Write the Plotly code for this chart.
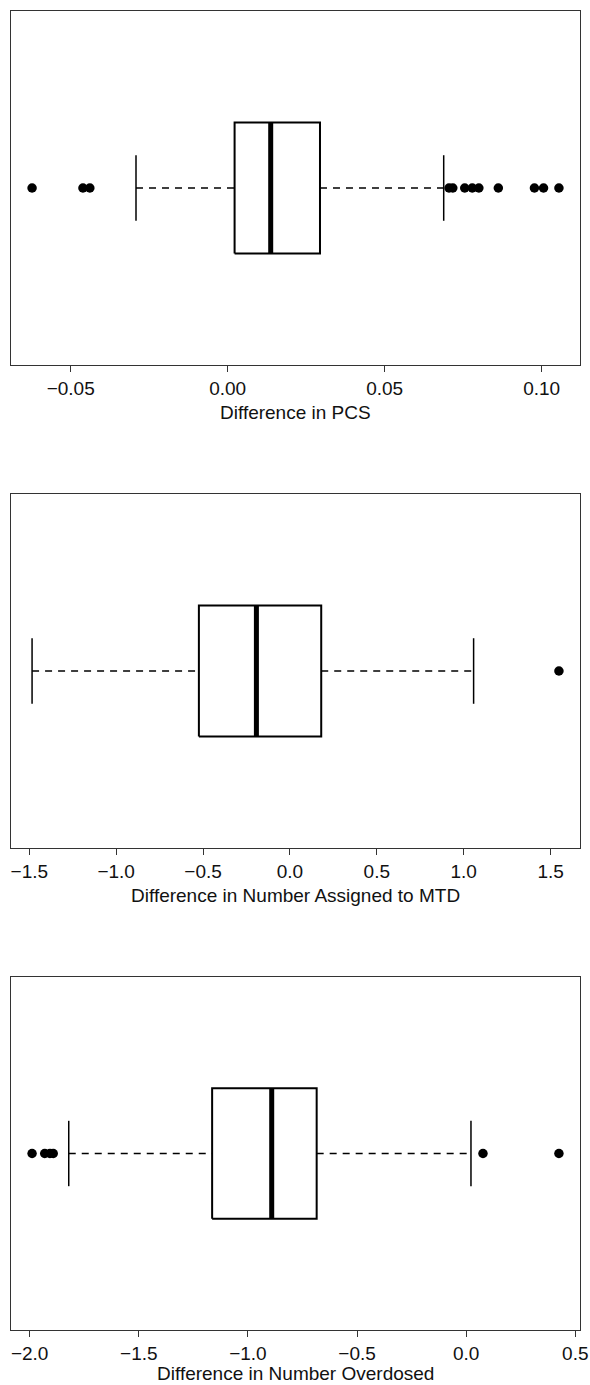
import plotly.graph_objects as go

# ---- data (lower whisker, Q1, median, Q3, upper whisker) ----
pcs_stats = [-0.0292, 0.0022, 0.0137, 0.0294, 0.0688]
pcs_outliers = [-0.0623, -0.0461, -0.0439, 0.0705, 0.0717, 0.0755, 0.0779,
                0.0800, 0.0862, 0.0977, 0.1006, 0.1055]
pcs_ticks = [-0.05, 0.00, 0.05, 0.10]
pcs_ticktext = ["\u22120.05", "0.00", "0.05", "0.10"]
pcs_label = "Difference in PCS"

mtd_stats = [-1.484, -0.524, -0.193, 0.180, 1.057]
mtd_outliers = [1.548]
mtd_ticks = [-1.5, -1.0, -0.5, 0.0, 0.5, 1.0, 1.5]
mtd_ticktext = ["\u22121.5", "\u22121.0", "\u22120.5", "0.0", "0.5", "1.0", "1.5"]
mtd_label = "Difference in Number Assigned to MTD"

od_stats = [-1.821, -1.164, -0.891, -0.685, 0.022]
od_outliers = [-1.989, -1.931, -1.907, -1.892, 0.077, 0.425]
od_ticks = [-2.0, -1.5, -1.0, -0.5, 0.0, 0.5]
od_ticktext = ["\u22122.0", "\u22121.5", "\u22121.0", "\u22120.5", "0.0", "0.5"]
od_label = "Difference in Number Overdosed"

panels = [
    (pcs_stats, pcs_outliers, pcs_ticks, pcs_ticktext, pcs_label),
    (mtd_stats, mtd_outliers, mtd_ticks, mtd_ticktext, mtd_label),
    (od_stats, od_outliers, od_ticks, od_ticktext, od_label),
]

W, H = 590, 1385
ML, MR, MT, MB = 11, 10, 11, 55
PH = H - MT - MB
# panel pixel extents (top, bottom) measured from the top of the page
panel_px = [(11, 365), (494, 848), (977, 1330)]
label_offset = [47, 47, 43]

FONT = "Liberation Sans, Arial, Helvetica, sans-serif"
FRAME = "#333333"

fig = go.Figure()
annotations = []
layout = {}

for i, (stats, outs, ticks, ticktext, label) in enumerate(panels):
    sfx = "" if i == 0 else str(i + 1)
    xa, ya = "x" + sfx, "y" + sfx
    lo, q1, med, q3, hi = stats

    # dashed whiskers
    fig.add_trace(go.Scatter(x=[lo, q1, None, q3, hi], y=[1, 1, None, 1, 1],
                             mode="lines", xaxis=xa, yaxis=ya,
                             line=dict(color="black", width=1.3, dash="7px,6px")))
    # staples
    fig.add_trace(go.Scatter(x=[lo, lo, None, hi, hi], y=[0.9, 1.1, None, 0.9, 1.1],
                             mode="lines", xaxis=xa, yaxis=ya,
                             line=dict(color="black", width=1.5)))
    # box
    fig.add_trace(go.Scatter(x=[q1, q3, q3, q1, q1], y=[0.8, 0.8, 1.2, 1.2, 0.8],
                             mode="lines", xaxis=xa, yaxis=ya, fill="toself",
                             fillcolor="white",
                             line=dict(color="black", width=2)))
    # median
    fig.add_trace(go.Scatter(x=[med, med], y=[0.8, 1.2], mode="lines",
                             xaxis=xa, yaxis=ya,
                             line=dict(color="black", width=5)))
    # outliers
    fig.add_trace(go.Scatter(x=outs, y=[1] * len(outs), mode="markers",
                             xaxis=xa, yaxis=ya,
                             marker=dict(color="black", size=9.5)))

    allv = list(stats) + list(outs)
    mn, mx = min(allv), max(allv)
    pad = 0.04 * (mx - mn)

    top, bot = panel_px[i]
    d0 = (H - MB - bot) / PH
    d1 = (H - MB - top) / PH

    layout["xaxis" + sfx] = dict(
        domain=[0, 1], anchor=ya, range=[mn - pad, mx + pad], automargin=False,
        tickmode="array", tickvals=ticks, ticktext=ticktext,
        ticks="outside", ticklen=6, tickwidth=1.3, tickcolor=FRAME,
        showline=True, mirror=True, linecolor=FRAME, linewidth=1.3,
        showgrid=False, zeroline=False,
        tickfont=dict(family=FONT, size=19, color="#111111"),
    )
    layout["yaxis" + sfx] = dict(
        domain=[d0, min(d1, 1)], anchor=xa, range=[0.46, 1.54], automargin=False,
        showticklabels=False, ticks="", showline=True, mirror=True,
        linecolor=FRAME, linewidth=1.3, showgrid=False, zeroline=False,
        fixedrange=True,
    )
    annotations.append(dict(
        text=label, xref=xa + " domain", yref=ya + " domain",
        x=0.5, y=-label_offset[i] / (bot - top), xanchor="center", yanchor="middle",
        showarrow=False, font=dict(family=FONT, size=19, color="#111111"),
    ))

fig.update_layout(
    width=W, height=H,
    margin=dict(l=ML, r=MR, t=MT, b=MB, pad=0, autoexpand=False),
    paper_bgcolor="white", plot_bgcolor="white",
    showlegend=False, annotations=annotations,
    **layout,
)

fig.write_html("out.html")
